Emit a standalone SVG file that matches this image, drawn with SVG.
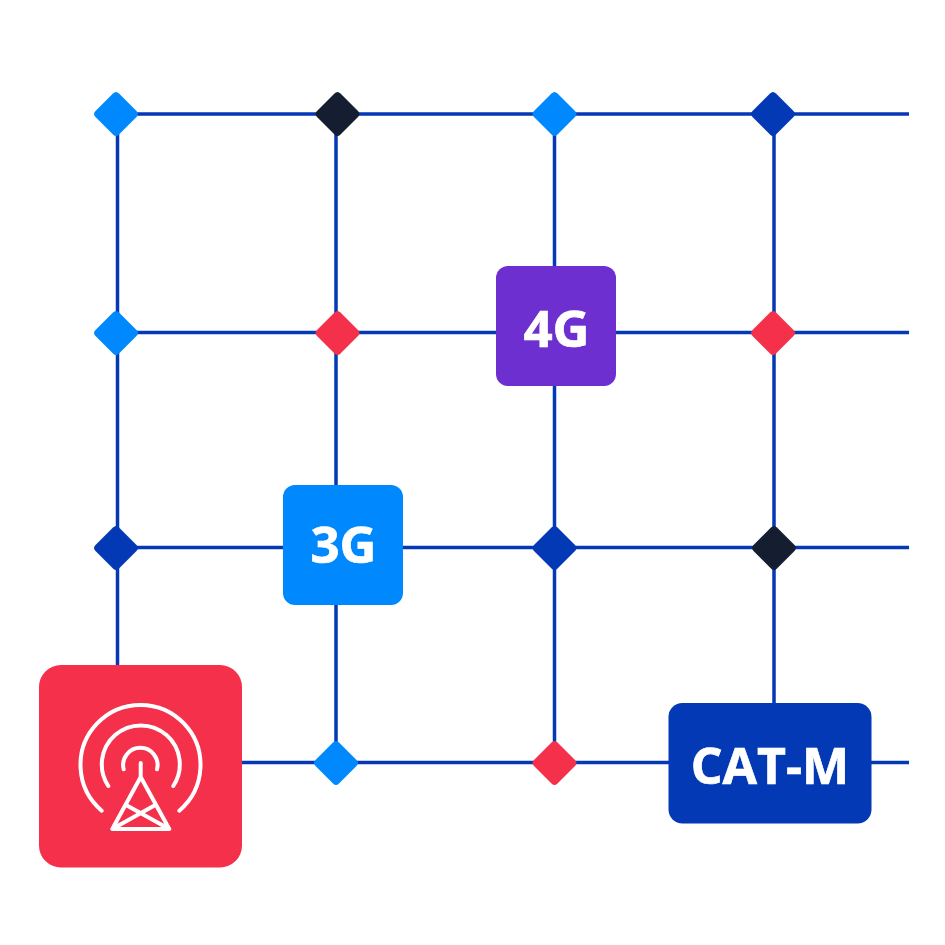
<svg xmlns="http://www.w3.org/2000/svg" width="945" height="945" viewBox="0 0 945 945">
<style>
.w{stroke:#0439b6;stroke-width:3.5;fill:none}
.lb{font-family:"Open Sans","Noto Sans","Liberation Sans",sans-serif;font-weight:700;fill:#fff;stroke:#fff;stroke-width:0.7;text-anchor:middle}
.ic{fill:none;stroke:#fff;stroke-width:4;stroke-linecap:round;stroke-linejoin:round}
</style>
<defs>
<path id="dm" d="M-3,-20.500Q0,-23.500 3,-20.500L20.500,-3Q23.500,0 20.500,3L3,20.500Q0,23.500 -3,20.500L-20.500,3Q-23.500,0 -20.500,-3Z"/>
</defs>
<rect width="945" height="945" fill="#fff"/>
<g id="connectors">
<path class="w" d="M116,114H909M116,332.500H909M116,547.500H909M240,762.500H909"/>
<path class="w" d="M117.500,114V670M336,114V762M554.500,114V762M774,114V710"/>
</g>
<g id="n-r1c1"><use href="#dm" x="116" y="114" fill="#0089ff"/></g>
<g id="n-r1c2"><use href="#dm" x="337.500" y="114" fill="#141e30"/></g>
<g id="n-r1c3"><use href="#dm" x="554.500" y="114" fill="#0089ff"/></g>
<g id="n-r1c4"><use href="#dm" x="773" y="114" fill="#0439b6"/></g>
<g id="n-r2c1"><use href="#dm" x="116" y="333" fill="#0089ff"/></g>
<g id="n-r2c2"><use href="#dm" x="337.500" y="333" fill="#f4304a"/></g>
<g id="n-r2c4"><use href="#dm" x="773" y="333" fill="#f4304a"/></g>
<g id="n-r3c1"><use href="#dm" x="116" y="548" fill="#0439b6"/></g>
<g id="n-r3c3"><use href="#dm" x="554.500" y="548" fill="#0439b6"/></g>
<g id="n-r3c4"><use href="#dm" x="774" y="548" fill="#141e30"/></g>
<g id="n-r4c2"><use href="#dm" x="336" y="763" fill="#0089ff"/></g>
<g id="n-r4c3"><use href="#dm" x="554.500" y="763" fill="#f4304a"/></g>
<g id="n-4g"><rect x="496" y="266" width="120" height="120" rx="12" fill="#6e2fd0"/><text class="lb" x="556.500" y="347" font-size="51">4G</text></g>
<g id="n-3g"><rect x="283" y="485" width="120" height="120" rx="12" fill="#0089ff"/><text class="lb" x="343.500" y="563" font-size="51">3G</text></g>
<g id="n-catm"><rect x="668.500" y="703" width="203" height="120.500" rx="14" fill="#0439b6"/><text class="lb" x="770" y="784" font-size="50">CAT-M</text></g>
<g id="n-tower"><rect x="39" y="665" width="203" height="202.500" rx="22" fill="#f4304a"/>
<g class="ic">
<path d="M101.700,810.700A60,60 0 1 1 179.300,810.700"/>
<path d="M108.300,786A39,39 0 1 1 173.300,786"/>
<path d="M123.700,769.300A17.200,17.200 0 1 1 157,769.300"/>
<path d="M140.700,763V777M140.700,777L112.300,829H169.300ZM126,805L169.300,829M155.300,805L112.300,829"/>
</g></g>
</svg>
